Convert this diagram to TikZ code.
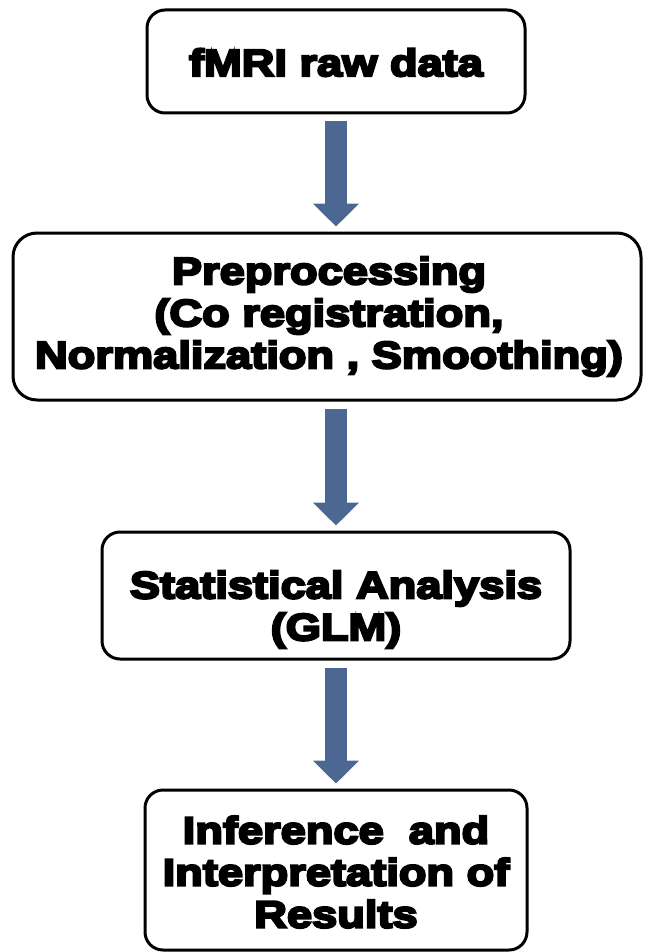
\documentclass[tikz,border=0pt]{standalone}
\usepackage{fontspec}
\setmainfont{Liberation Sans}[BoldFeatures={FakeBold=6,FakeStretch=1.19}]
\usetikzlibrary{arrows.meta,calc}
\definecolor{arrowblue}{RGB}{76,104,146}
\tikzset{
  stepbox/.style={draw=black, line width=3pt, rounded corners=18pt, fill=white,
    inner sep=0pt},
  steptext/.style={inner sep=0pt, align=center, font=\fontsize{38}{42}\selectfont\bfseries},
  blockarrow/.style={draw=arrowblue, line width=22pt,
    -{Triangle[width=45pt,length=23pt]}, shorten <=7pt, shorten >=5pt}
}
\begin{document}
\begin{tikzpicture}
\useasboundingbox (0,0) rectangle (647pt,-952pt);
\node[stepbox, minimum width=378pt, minimum height=103pt] (b1) at (336pt,-61.5pt) {};
\node[steptext] (t1) at ($(b1.center)+(0,-1pt)$) {fMRI raw data};
\node[stepbox, minimum width=628pt, minimum height=167pt, rounded corners=24pt] (b2) at (327pt,-316.5pt) {};
\node[steptext] (t2) at ($(b2.center)+(2pt,0)$) {Preprocessing\\(Co registration,\\Normalization , Smoothing)};
\node[stepbox, minimum width=468pt, minimum height=127pt] (b3) at (336pt,-595.5pt) {};
\node[steptext] (t3) at ($(b3.center)+(0,-14pt)$) {Statistical Analysis\\(GLM)};
\node[stepbox, minimum width=382pt, minimum height=160pt] (b4) at (336pt,-870pt) {};
\node[steptext] (t4) at ($(b4.center)+(0,-2pt)$) {Inference \ and\\Interpretation of\\Results};
\draw[blockarrow] (b1.south) -- (b1.south |- b2.north);
\draw[blockarrow] (b2.south -| b1.south) -- (b3.north);
\draw[blockarrow] (b3.south) -- (b4.north);
\end{tikzpicture}
\end{document}
